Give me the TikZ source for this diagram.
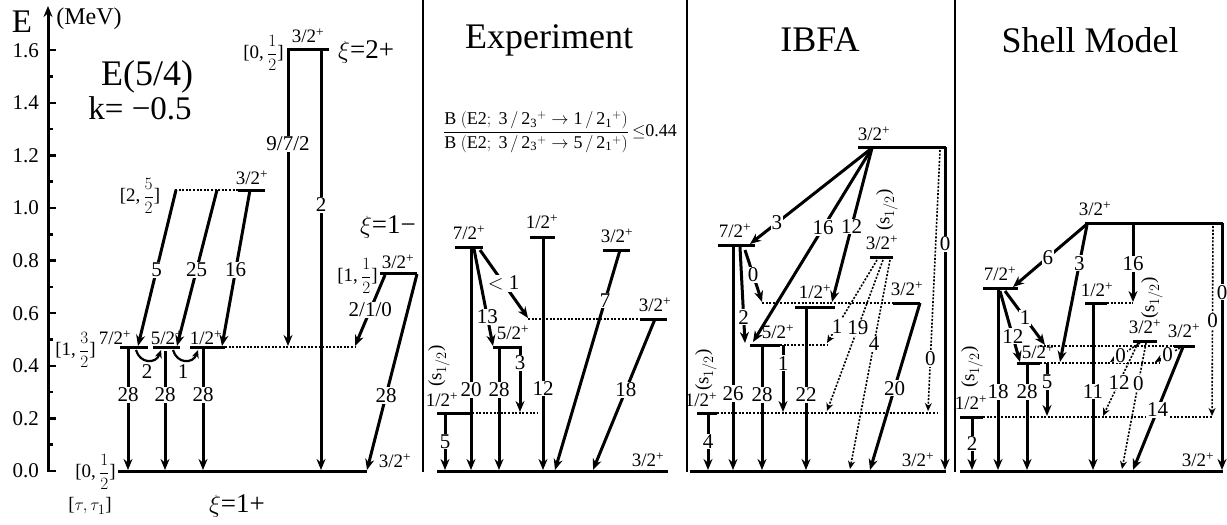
\documentclass[tikz,border=0pt]{standalone}
\usepackage{fontspec}
\setmainfont{Liberation Serif}
\usepackage{amsmath}
\usetikzlibrary{arrows.meta}
\newcommand{\J}[1]{#1\textsuperscript{+}}
\newcommand{\shalf}{(s$_{1/2}$)}
\newcommand{\qn}[3]{[#1,\,$\dfrac{#2}{#3}$]}
\tikzset{
  lev/.style={line width=3pt},
  dlev/.style={line width=1.8pt, dash pattern=on 2pt off 1.6pt},
  tr/.style={line width=3pt, -{Stealth[length=11pt,width=9pt]}},
  ctr/.style={line width=2.2pt, -{Stealth[length=8pt,width=7pt]}},
  dtr/.style={line width=1.6pt, dash pattern=on 2pt off 1.6pt, -{Stealth[length=8pt,width=7pt]}},
  tl/.style={fill=white, inner sep=1pt, font=\fontsize{21}{21}\selectfont},
  lv/.style={inner sep=0pt, font=\fontsize{19}{19}\selectfont},
  xil/.style={inner sep=0pt, font=\fontsize{27}{27}\selectfont},
  ttl/.style={inner sep=0pt, font=\fontsize{36}{36}\selectfont},
  sepline/.style={line width=2.6pt},
}
\begin{document}
\begin{tikzpicture}[x=1pt,y=-1pt]
\useasboundingbox (0,0) rectangle (1227,525);

% ---------------- axis ----------------
\draw[line width=3pt, -{Stealth[length=11pt,width=9pt]}] (48,472) -- (48,6);
\foreach \e/\t in {0/0.0,0.2/0.2,0.4/0.4,0.6/0.6,0.8/0.8,1.0/1.0,1.2/1.2,1.4/1.4,1.6/1.6}{
  \draw[line width=2.5pt] (48,{471-263*\e}) -- ++(8,0);
  \node[anchor=east, inner sep=0pt, font=\fontsize{21}{21}\selectfont] at (39,{471-263*\e}) {\t};
}
\foreach \e in {0.1,0.3,0.5,0.7,0.9,1.1,1.3,1.5}{
  \draw[line width=2.5pt] (48,{471-263*\e}) -- ++(5,0);
}
\node[inner sep=0pt, font=\fontsize{33}{33}\selectfont] at (22,22) {E};
\node[inner sep=0pt, font=\fontsize{24}{24}\selectfont] at (89,19) {(MeV)};

% ---------------- E(5/4) panel ----------------
\node[inner sep=0pt, font=\fontsize{36}{36}\selectfont] at (147,77) {E(5/4)};
\node[inner sep=0pt, font=\fontsize{33}{33}\selectfont] at (140,108) {k= \char"2212 0.5};

\draw[lev] (118,471) -- (367,471);
\node[lv,anchor=east] at (116,472) {\qn{0}{1}{2}};
\node[lv] at (395,461) {\J{3/2}};
\node[lv] at (90,506) {[$\tau,\tau_1$]};
\node[xil] at (237,506) {$\xi$=1+};

% [1,3/2] multiplet
\draw[lev] (120,347) -- (148,347);
\draw[lev] (153,347) -- (180,347);
\draw[lev] (190,347) -- (225,347);
\draw[dlev] (225,347) -- (355,347);
\node[lv,anchor=east] at (96,350) {\qn{1}{3}{2}};
\node[lv] at (115,338) {\J{7/2}};
\node[lv] at (167,338) {\J{5/2}};
\node[lv] at (206,338) {\J{1/2}};
\draw[ctr] (136,350) .. controls (140,364) and (156,364) .. (161,350);
\node[tl] at (147,372) {2};
\draw[ctr] (173,350) .. controls (177,364) and (193,364) .. (198,350);
\node[tl] at (183,372) {1};
\draw[tr] (128,347) -- node[tl,pos=0.39]{28} (128,470);
\draw[tr] (165,351) -- node[tl,pos=0.37]{28} (165,470);
\draw[tr] (203,347) -- node[tl,pos=0.39]{28} (203,470);

% [2,5/2]
\draw[dlev] (175,190) -- (238,190);
\draw[lev] (238,190) -- (265,190);
\node[lv] at (140,196) {\qn{2}{5}{2}};
\node[lv] at (252,178) {\J{3/2}};
\draw[tr] (176,190) -- node[tl,pos=0.51]{5} (138,346);
\draw[tr] (217,190) -- node[tl,pos=0.51]{25} (177,346);
\draw[tr] (250,190) -- node[tl,pos=0.51]{16} (222,346);

% xi = 2+
\draw[lev] (287,49) -- (329,49);
\node[lv,anchor=east] at (284,53) {\qn{0}{1}{2}};
\node[lv] at (308,36) {\J{3/2}};
\node[xil,anchor=west] at (338,52) {$\xi$=2+};
\draw[tr] (288,49) -- node[tl,pos=0.32]{9/7/2} (288,346);
\draw[tr] (321,49) -- node[tl,pos=0.37]{2} (321,470);

% xi = 1-
\node[xil] at (388,227) {$\xi$=1\char"2212};
\draw[lev] (380,273) -- (417,273);
\node[lv,anchor=east] at (378,276) {\qn{1}{1}{2}};
\node[lv] at (398,262) {\J{3/2}};
\draw[tr] (385,275) -- node[tl,pos=0.49]{2/1/0} (355,346);
\draw[tr] (417,274) -- node[tl,pos=0.62]{28} (367,470);

% ---------------- separators ----------------
\draw[sepline] (423,0) -- (423,472);
\draw[sepline] (687,0) -- (687,472);
\draw[sepline] (955,0) -- (955,472);

% ---------------- Experiment ----------------
\node[ttl] at (549,40) {Experiment};
\node[inner sep=0pt, font=\fontsize{18}{20}\selectfont] at (560,132)
 {$\dfrac{\mathrm{B\ (E2;\ 3\,/\,2_3{}^{+}}\rightarrow\mathrm{1\,/\,2_1{}^{+})}}{\mathrm{B\ (E2;\ 3\,/\,2_3{}^{+}}\rightarrow\mathrm{5\,/\,2_1{}^{+})}}$\,$\leq$0.44};

\draw[lev] (437,471) -- (668,471);
\node[lv] at (648,460) {\J{3/2}};
\draw[lev] (455,247) -- (483,247);
\node[lv] at (469,233) {\J{7/2}};
\draw[lev] (530,237) -- (555,237);
\node[lv] at (542,222) {\J{1/2}};
\draw[lev] (603,250) -- (630,250);
\node[lv] at (617,236) {\J{3/2}};
\draw[dlev] (528,319) -- (640,319);
\draw[lev] (640,319) -- (667,319);
\node[lv] at (655,305) {\J{3/2}};
\draw[lev] (493,347) -- (522,347);
\node[lv] at (513,333) {\J{5/2}};
\draw[lev] (437,413) -- (472,413);
\draw[dlev] (472,413) -- (537,413);
\node[lv] at (442,400) {\J{1/2}};
\node[lv,rotate=90] at (439,366) {\shalf};

\draw[tr] (445,413) -- node[tl,pos=0.5]{5} (445,470);
\draw[tr] (471,247) -- node[tl,pos=0.64]{20} (471,470);
\draw[tr] (499,347) -- node[tl,pos=0.35]{28} (499,470);
\draw[tr] (543,237) -- node[tl,pos=0.65]{12} (543,470);
\draw[tr] (474,249) -- node[tl,pos=0.70]{13} (493,346);
\draw[tr] (480,250) -- node[tl,pos=0.49]{$<$ 1} (528,318);
\draw[tr] (520,347) -- node[tl,pos=0.24]{3} (520,412);
\draw[tr] (620,250) -- node[tl,pos=0.23]{7} (555,470);
\draw[tr] (655,319) -- node[tl,pos=0.47]{18} (593,470);

% ---------------- IBFA ----------------
\node[ttl] at (820,40) {IBFA};
\draw[lev] (690,471) -- (946,471);
\node[lv] at (918,460) {\J{3/2}};
\draw[lev] (858,147) -- (946,147);
\node[lv] at (874,134) {\J{3/2}};
\draw[tr] (945,147) -- node[tl,pos=0.30]{0} (945,470);
\draw[dtr] (940,150) -- node[tl,pos=0.80]{0} (928,411);
\draw[lev] (718,245) -- (755,245);
\node[lv] at (735,231) {\J{7/2}};
\draw[tr] (872,148) -- node[tl,pos=0.78]{3} (750,244);
\draw[tr] (872,148) -- node[tl,pos=0.41]{16} (753,342);
\draw[tr] (872,148) -- node[tl,pos=0.51]{12} (832,302);
\draw[dlev] (762,303) -- (893,303);
\draw[lev] (893,303) -- (920,303);
\node[lv] at (907,289) {\J{3/2}};
\draw[lev] (795,307) -- (835,307);
\node[lv] at (815,292) {\J{1/2}};
\draw[tr] (745,250) -- node[tl,pos=0.48]{0} (762,302);
\draw[tr] (740,247) -- node[tl,pos=0.73]{2} (745,343);
\draw[tr] (733,245) -- node[tl,pos=0.66]{26} (733,470);
\draw[lev] (750,345) -- (780,345);
\draw[dlev] (780,345) -- (827,345);
\node[lv] at (778,332) {\J{5/2}};
\draw[tr] (762,345) -- node[tl,pos=0.4]{28} (762,470);
\draw[tr] (783,345) -- node[tl,pos=0.27]{1} (783,412);
\draw[tr] (806,307) -- node[tl,pos=0.54]{22} (806,470);
\draw[lev] (697,413) -- (717,413);
\draw[dlev] (717,413) -- (937,413);
\node[lv] at (701,400) {\J{1/2}};
\node[lv,rotate=90] at (706,370) {\shalf};
\draw[tr] (708,413) -- node[tl,pos=0.5]{4} (708,470);
\draw[lev] (870,257) -- (893,257);
\node[lv] at (882,243) {\J{3/2}};
\node[lv,rotate=90] at (887,210) {\shalf};
\draw[dtr] (877,260) -- node[tl,pos=0.8]{1} (827,343);
\draw[dtr] (883,260) -- node[tl,pos=0.45]{19} (827,411);
\draw[dtr] (890,260) -- node[tl,pos=0.40]{4} (850,469);
\draw[tr] (920,303) -- node[tl,pos=0.51]{20} (870,470);

% ---------------- Shell Model ----------------
\node[ttl] at (1090,40) {Shell Model};
\draw[lev] (960,471) -- (1223,471);
\node[lv] at (1198,460) {\J{3/2}};
\draw[lev] (1085,223) -- (1223,223);
\node[lv] at (1095,209) {\J{3/2}};
\draw[tr] (1222,223) -- node[tl,pos=0.28]{0} (1222,470);
\draw[dtr] (1213,226) -- node[tl,pos=0.5]{0} (1212,416);
\draw[lev] (983,288) -- (1018,288);
\node[lv] at (1000,274) {\J{7/2}};
\draw[tr] (1087,224) -- node[tl,pos=0.53]{6} (1013,287);
\draw[tr] (1087,225) -- node[tl,pos=0.28]{3} (1060,362);
\draw[tr] (1133,223) -- node[tl,pos=0.52]{16} (1133,302);
\draw[lev] (1085,303) -- (1107,303);
\draw[dlev] (1107,303) -- (1133,303);
\node[lv] at (1097,290) {\J{1/2}};
\draw[tr] (1093,303) -- node[tl,pos=0.53]{11} (1093,470);
\draw[dlev] (1040,346) -- (1173,346);
\draw[lev] (1173,346) -- (1195,346);
\node[lv] at (1184,331) {\J{3/2}};
\draw[lev] (1017,363) -- (1040,363);
\draw[dlev] (1040,363) -- (1160,363);
\node[lv] at (1038,352) {\J{5/2}};
\draw[lev] (1133,341) -- (1157,341);
\node[lv] at (1145,327) {\J{3/2}};
\node[lv,rotate=90] at (1152,298) {\shalf};
\draw[tr] (1005,291) -- node[tl,pos=0.5]{1} (1045,345);
\draw[tr] (1000,291) -- node[tl,pos=0.64]{12} (1020,362);
\draw[tr] (998,288) -- node[tl,pos=0.57]{18} (998,470);
\draw[tr] (1027,363) -- node[tl,pos=0.27]{28} (1027,470);
\draw[tr] (1047,363) -- node[tl,pos=0.35]{5} (1047,416);
\draw[lev] (960,417) -- (983,417);
\draw[dlev] (983,417) -- (1212,417);
\node[lv] at (971,403) {\J{1/2}};
\node[lv,rotate=90] at (972,367) {\shalf};
\draw[tr] (972,417) -- node[tl,pos=0.5]{2} (972,470);
\draw[dtr] (1140,343) -- node[tl,pos=0.65]{0} (1110,362);
\draw[dtr] (1180,348) -- node[tl,pos=0.5]{0} (1155,362);
\draw[dtr] (1138,343) -- node[tl,pos=0.54]{12} (1103,416);
\draw[dtr] (1146,343) -- node[tl,pos=0.32]{0} (1122,469);
\draw[tr] (1183,347) -- node[tl,pos=0.51]{14} (1133,470);
\end{tikzpicture}
\end{document}
